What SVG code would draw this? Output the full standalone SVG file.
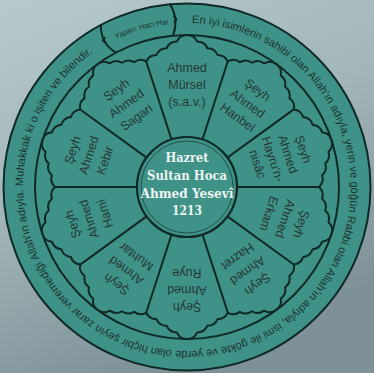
<svg xmlns="http://www.w3.org/2000/svg" xmlns:xlink="http://www.w3.org/1999/xlink" width="374" height="373" viewBox="0 0 374 373">
<style>
.ln{fill:none;stroke:#0f2926;stroke-width:2;stroke-linejoin:round}
.pt{font-family:"Liberation Sans",Arial,sans-serif;font-size:12.5px;fill:#263836;text-anchor:middle}
.ct{font-family:"DejaVu Serif",serif;font-size:12.5px;font-weight:bold;fill:#eef4f1;text-anchor:middle}
.rt{font-family:"Liberation Sans",Arial,sans-serif;font-size:11.1px;fill:#1d3230}
</style>
<defs>
<linearGradient id="bg" x1="0" y1="0" x2="0.4" y2="1">
<stop offset="0" stop-color="#b6c9cd"/>
<stop offset="0.5" stop-color="#a2b6ba"/>
<stop offset="1" stop-color="#7d9196"/>
</linearGradient>
<path id="edge" class="ln" d="M146.2,61.5 Q149.1,54.85 156.4,54.9 Q159.3,48.2 166.6,48.25 Q169.5,41.6 176.8,41.6 Q179.7,34.95 187,35 Q194.3,34.95 197.2,41.6 Q204.5,41.6 207.4,48.25 Q214.7,48.2 217.6,54.9 Q224.9,54.85 227.8,61.5"/>
<line id="ray" class="ln" x1="171.55" y1="139.45" x2="146.2" y2="61.5"/>
<path id="ringPath" d="M187,23 A164,164 0 0 1 187,351 A164,164 0 0 1 187,23"/>
<path id="signPath" d="M110,42.2 A164,164 0 0 1 175.6,23.4"/>
</defs>
<rect width="374" height="373" fill="url(#bg)"/>
<g id="disk">
<circle cx="187" cy="187" r="183.5" fill="#3f9288" stroke="#0f2926" stroke-width="2"/>
<circle cx="187" cy="187" r="152" class="ln"/>
</g>
<g id="inscription">
<text class="rt"><textPath href="#ringPath" startOffset="4.9" textLength="103" lengthAdjust="spacingAndGlyphs">En iyi isimlerin sahibi</textPath></text>
<text class="rt"><textPath href="#ringPath" startOffset="111" textLength="95.9" lengthAdjust="spacingAndGlyphs">olan Allah'ın adıyla,</textPath></text>
<text class="rt"><textPath href="#ringPath" startOffset="210" textLength="104.9" lengthAdjust="spacingAndGlyphs">yerin ve göğün Rabbi</textPath></text>
<text class="rt"><textPath href="#ringPath" startOffset="318" textLength="95.9" lengthAdjust="spacingAndGlyphs">olan Allah'ın adıyla,</textPath></text>
<text class="rt"><textPath href="#ringPath" startOffset="417" textLength="79" lengthAdjust="spacingAndGlyphs">ismi ile gökte ve</textPath></text>
<text class="rt"><textPath href="#ringPath" startOffset="499" textLength="81.4" lengthAdjust="spacingAndGlyphs">yerde olan hiçbir</textPath></text>
<text class="rt"><textPath href="#ringPath" startOffset="583.5" textLength="111.7" lengthAdjust="spacingAndGlyphs">şeyin zarar veremediği</textPath></text>
<text class="rt"><textPath href="#ringPath" startOffset="698.3" textLength="71.8" lengthAdjust="spacingAndGlyphs">Allah'ın adıyla.</textPath></text>
<text class="rt"><textPath href="#ringPath" startOffset="773.2" textLength="99.9" lengthAdjust="spacingAndGlyphs">Muhakkak ki o işiten</textPath></text>
<text class="rt"><textPath href="#ringPath" startOffset="876.2" textLength="53.7" lengthAdjust="spacingAndGlyphs">ve bilendir.</textPath></text>
</g>
<g id="maker">
<path class="ln" stroke-width="1.6" d="M170,4 Q179.1,19.1 173,35.6"/>
<path class="ln" stroke-width="1.4" d="M173.6,15.8 L176.4,19.2 L174.2,23"/>
<path class="ln" stroke-width="1.6" d="M100.9,24.4 Q100.2,43 115.9,52.7"/>
<path class="ln" stroke-width="1.4" d="M105.2,37.2 L102.8,40.6 L106.2,43.6"/>
<text style="font-family:'Liberation Sans',Arial,sans-serif;font-size:7.5px;fill:#1d3230;text-anchor:middle"><textPath href="#signPath" startOffset="50%">Yapan: Hacı Har</textPath></text>
</g>
<g id="dividers">
<use href="#ray"/>
<use href="#ray" transform="rotate(36 187 187)"/>
<use href="#ray" transform="rotate(72 187 187)"/>
<use href="#ray" transform="rotate(108 187 187)"/>
<use href="#ray" transform="rotate(144 187 187)"/>
<use href="#ray" transform="rotate(180 187 187)"/>
<use href="#ray" transform="rotate(216 187 187)"/>
<use href="#ray" transform="rotate(252 187 187)"/>
<use href="#ray" transform="rotate(288 187 187)"/>
<use href="#ray" transform="rotate(324 187 187)"/>
</g>
<g id="node-mursel">
<use href="#edge"/>
<text class="pt"><tspan x="187" y="72">Ahmed</tspan><tspan x="187" y="89">Mürsel</tspan><tspan x="187" y="106">(s.a.v.)</tspan></text>
</g>
<g id="node-hanbel" transform="rotate(36 187 187)">
<use href="#edge"/>
<text class="pt"><tspan x="187" y="71">Şeyh</tspan><tspan x="187" y="88">Ahmed</tspan><tspan x="187" y="105">Hanbel</tspan></text>
</g>
<g id="node-hayrunnisac" transform="rotate(72 187 187)">
<use href="#edge"/>
<text class="pt"><tspan x="187" y="69">Şeyh</tspan><tspan x="187" y="85">Ahmed</tspan><tspan x="187" y="101">Hayru'n-</tspan><tspan x="187" y="117">nisâc</tspan></text>
</g>
<g id="node-erkam" transform="rotate(108 187 187)">
<use href="#edge"/>
<text class="pt"><tspan x="187" y="71">Şeyh</tspan><tspan x="187" y="88">Ahmed</tspan><tspan x="187" y="105">Erkam</tspan></text>
</g>
<g id="node-hazret" transform="rotate(144 187 187)">
<use href="#edge"/>
<text class="pt"><tspan x="187" y="71">Şeyh</tspan><tspan x="187" y="88">Ahmed</tspan><tspan x="187" y="105">Hazret</tspan></text>
</g>
<g id="node-ruye" transform="rotate(180 187 187)">
<use href="#edge"/>
<text class="pt"><tspan x="187" y="71">Şeyh</tspan><tspan x="187" y="88">Ahmed</tspan><tspan x="187" y="105">Ruye</tspan></text>
</g>
<g id="node-muhtar" transform="rotate(216 187 187)">
<use href="#edge"/>
<text class="pt"><tspan x="187" y="71">Şeyh</tspan><tspan x="187" y="88">Ahmed</tspan><tspan x="187" y="105">Muhtar</tspan></text>
</g>
<g id="node-hami" transform="rotate(252 187 187)">
<use href="#edge"/>
<text class="pt"><tspan x="187" y="71">Şeyh</tspan><tspan x="187" y="88">Ahmed</tspan><tspan x="187" y="105">Hami</tspan></text>
</g>
<g id="node-kebir" transform="rotate(288 187 187)">
<use href="#edge"/>
<text class="pt"><tspan x="187" y="71">Şeyh</tspan><tspan x="187" y="88">Ahmed</tspan><tspan x="187" y="105">Kebir</tspan></text>
</g>
<g id="node-sagari" transform="rotate(324 187 187)">
<use href="#edge"/>
<text class="pt"><tspan x="187" y="71">Şeyh</tspan><tspan x="187" y="88">Ahmed</tspan><tspan x="187" y="105">Sagari</tspan></text>
</g>
<g id="node-center">
<circle cx="187" cy="187" r="50" fill="#3f9288" stroke="#0f2926" stroke-width="2.2"/>
<circle cx="187" cy="187" r="46" fill="none" stroke="#1b3c38" stroke-width="0.8"/>
<text class="ct" x="187" y="162" textLength="43" lengthAdjust="spacingAndGlyphs">Hazret</text>
<text class="ct" x="187" y="180" textLength="80" lengthAdjust="spacingAndGlyphs">Sultan Hoca</text>
<text class="ct" x="187" y="197.5" textLength="93" lengthAdjust="spacingAndGlyphs">Ahmed Yesevî</text>
<text class="ct" x="187" y="214.5" textLength="30" lengthAdjust="spacingAndGlyphs">1213</text>
</g>
</svg>
